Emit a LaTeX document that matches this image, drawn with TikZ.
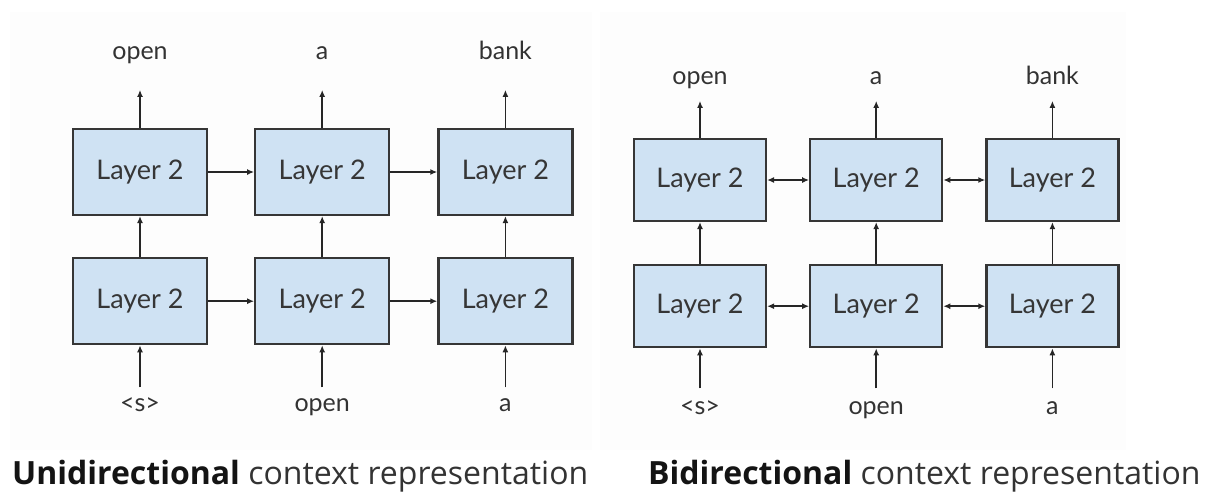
\documentclass[tikz,border=0pt]{standalone}
\usepackage{fontspec}
\setmainfont{Lato}
\newfontfamily\capfont{Open Sans}
\usepackage{xcolor}
\usepackage{tikz}
\usetikzlibrary{arrows.meta,positioning}

\definecolor{boxblue}{HTML}{CFE2F3}
\definecolor{boxline}{HTML}{363636}
\definecolor{wordgray}{HTML}{333333}
\definecolor{panelgray}{HTML}{FDFDFD}

\begin{document}
\begin{tikzpicture}[x=1pt, y=-1pt,
  layer/.style={rectangle, draw=boxline, fill=boxblue, line width=2.2pt, minimum width=134pt, minimum height=86pt, inner sep=0pt, font=\fontsize{27}{29}\selectfont, text=boxline},
  rlayer/.style={layer, minimum width=132pt, minimum height=82pt},
  word/.style={inner sep=0pt, text height=14pt, text depth=5pt, font=\fontsize{25}{28}\selectfont, text=wordgray},
  caption/.style={inner sep=0pt, font=\capfont\fontsize{32}{36}\selectfont, text=black!80},
  line/.style={draw, line width=1.7pt, color=black!85, -{Latex[length=7pt,width=6pt]}},
  both/.style={line, {Latex[length=7pt,width=6pt]}-{Latex[length=7pt,width=6pt]}}]

  \useasboundingbox (0,0) rectangle (1205,491);
  \fill [panelgray] (10,12) rectangle (592,450);
  \fill [panelgray] (600,12) rectangle (1126,450);

  \node [layer] (l1) at (140,172) {Layer 2};
  \node [layer, right=46pt of l1] (l2) {Layer 2};
  \node [layer, right=47pt of l2] (l3) {Layer 2};
  \node [layer, below=41pt of l1] (k1) {Layer 2};
  \node [layer, below=41pt of l2] (k2) {Layer 2};
  \node [layer, below=41pt of l3] (k3) {Layer 2};

  \node [word, above=63pt of l1] (o1) {open};
  \node [word, above=63pt of l2] (o2) {a};
  \node [word, above=63pt of l3] (o3) {bank};
  \node [word, below=52pt of k1] (i1) {<s>};
  \node [word, below=52pt of k2] (i2) {open};
  \node [word, below=52pt of k3] (i3) {a};

  \draw [line] (l1) -- (l2);
  \draw [line] (l2) -- (l3);
  \draw [line] (k1) -- (k2);
  \draw [line] (k2) -- (k3);
  \draw [line] (k1) -- (l1);
  \draw [line] (k2) -- (l2);
  \draw [line] (k3) -- (l3);
  \draw [line, shorten >=25pt] (l1) -- (o1);
  \draw [line, shorten >=25pt] (l2) -- (o2);
  \draw [line, shorten >=25pt] (l3) -- (o3);
  \draw [line, shorten <=10pt] (i1) -- (k1);
  \draw [line, shorten <=10pt] (i2) -- (k2);
  \draw [line, shorten <=10pt] (i3) -- (k3);

  \node [rlayer] (r1) at (700,180) {Layer 2};
  \node [rlayer, right=42pt of r1] (r2) {Layer 2};
  \node [rlayer, right=42pt of r2] (r3) {Layer 2};
  \node [rlayer, below=42pt of r1] (s1) {Layer 2};
  \node [rlayer, below=42pt of r2] (s2) {Layer 2};
  \node [rlayer, below=42pt of r3] (s3) {Layer 2};

  \node [word, above=48pt of r1] (p1) {open};
  \node [word, above=48pt of r2] (p2) {a};
  \node [word, above=48pt of r3] (p3) {bank};
  \node [word, below=52pt of s1] (j1) {<s>};
  \node [word, below=52pt of s2] (j2) {open};
  \node [word, below=52pt of s3] (j3) {a};

  \draw [both] (r1) -- (r2);
  \draw [both] (r2) -- (r3);
  \draw [both] (s1) -- (s2);
  \draw [both] (s2) -- (s3);
  \draw [line] (s1) -- (r1);
  \draw [line] (s2) -- (r2);
  \draw [line] (s3) -- (r3);
  \draw [line, shorten >=11pt] (r1) -- (p1);
  \draw [line, shorten >=11pt] (r2) -- (p2);
  \draw [line, shorten >=11pt] (r3) -- (p3);
  \draw [line, shorten <=12pt] (j1) -- (s1);
  \draw [line, shorten <=12pt] (j2) -- (s2);
  \draw [line, shorten <=12pt] (j3) -- (s3);

  \node [caption, anchor=base west] (capl) at (12,484) {\textbf{\color{black!92}Unidirectional} context representation};
  \node [caption, anchor=base west] (capr) at (648,484) {\textbf{\color{black!92}Bidirectional} context representation};
\end{tikzpicture}
\end{document}
